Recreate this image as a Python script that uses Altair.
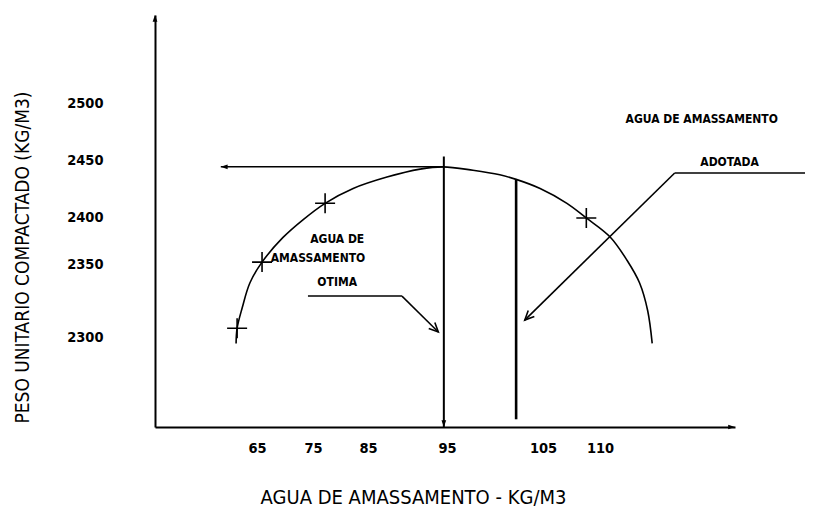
import altair as alt
import pandas as pd

# ---- scale anchors: axis value -> position along the (not-to-scale) drawing
x_domain = [45, 65, 75, 85, 95, 105, 110, 125]
x_range = [0, 102, 158, 213, 292, 388, 445, 580]
y_domain = [2230, 2300, 2350, 2400, 2450, 2500, 2600]
y_range = [412, 322, 249, 202, 145, 88, 0]

x_ticks = [65, 75, 85, 95, 105, 110]
y_ticks = [2300, 2350, 2400, 2450, 2500]

# ---- compaction curve
curve_x = [60.9, 61.1, 62.1, 63.6, 65.9, 69.6, 73.2, 77.2, 82.3, 87.4, 91.6, 94.5,
           97.7, 100.5, 102.2, 104.7, 107.1, 108.8, 111.1, 113.0, 114.4, 115.3, 115.8]
curve_y = [2295, 2306, 2320, 2337, 2352, 2378, 2397, 2412, 2425, 2435, 2442, 2444,
           2441, 2437, 2433, 2425, 2412, 2399, 2379, 2354, 2337, 2318, 2295]

# ---- test points (crosses)
marker_x = [61.1, 65.9, 77.2, 108.8]
marker_y = [2306, 2352, 2412, 2399]

# ---- construction lines
seg_x1 = [57.9, 94.6, 102.2, 118.3, 118.3, 74.1, 89.3]
seg_y1 = [2444, 2453, 2433, 2438.6, 2438.6, 2328, 2328]
seg_x2 = [94.5, 94.6, 102.2, 133.0, 103.1, 89.3, 93.9]
seg_y2 = [2444, 2230, 2236, 2438.6, 2311.6, 2328, 2303.4]
seg_w = [1.5, 2.0, 2.6, 1.6, 1.6, 1.5, 1.5]

# ---- open arrowheads (leaders)
open_x = [103.1, 93.9]
open_y = [2311.6, 2303.4]
open_angle = [225, 135]

# ---- filled arrowheads (axes and optimum lines)
fill_x = [45, 125, 57.9, 94.6]
fill_y = [2600, 2230, 2444, 2230]
fill_angle = [0, 90, 270, 180]

# ---- annotations
ann_text = ["AGUA DE AMASSAMENTO", "ADOTADA", "AGUA DE", "AMASSAMENTO", "OTIMA"]
ann_x = [121.3, 124.4, 79.4, 75.9, 79.4]
ann_y = [2486, 2448, 2377, 2356, 2338]

FONT = "DejaVu Sans Condensed"

xs = alt.Scale(domain=x_domain, range=x_range, nice=False, zero=False)
ys = alt.Scale(domain=y_domain, range=y_range, nice=False, zero=False)

x_axis = alt.Axis(values=x_ticks, format="d", title="AGUA DE AMASSAMENTO - KG/M3",
                  grid=False, ticks=False, tickSize=0, domainColor="black",
                  domainWidth=2, labelPadding=14, labelFont=FONT, labelFontSize=14.5,
                  labelFontWeight="bold", labelColor="black", labelFlush=False,
                  titleFont=FONT, titleFontSize=20, titleFontWeight="normal",
                  titleColor="black", titleX=258, titleY=70, titleBaseline="middle",
                  titleAlign="center")
y_axis = alt.Axis(values=y_ticks, format="d", title="PESO UNITARIO COMPACTADO (KG/M3)",
                  grid=False, ticks=False, tickSize=0, domainColor="black",
                  domainWidth=2, labelPadding=52, labelFont=FONT, labelFontSize=14.5,
                  labelFontWeight="bold", labelColor="black", labelFlush=False,
                  titleFont=FONT, titleFontSize=19, titleFontWeight="normal",
                  titleColor="black", titleX=-133, titleY=242, titleAngle=270,
                  titleBaseline="middle", titleAlign="center")


def X(field):
    return alt.X(f"{field}:Q", scale=xs, axis=x_axis)


def Y(field):
    return alt.Y(f"{field}:Q", scale=ys, axis=y_axis)


curve_df = pd.DataFrame({"x": curve_x, "y": curve_y, "i": range(len(curve_x))})
marker_df = pd.DataFrame({"x": marker_x, "y": marker_y})
seg_df = pd.DataFrame({"x": seg_x1, "y": seg_y1, "x2": seg_x2, "y2": seg_y2, "w": seg_w})
open_df = pd.DataFrame({"x": open_x, "y": open_y, "a": open_angle})
fill_df = pd.DataFrame({"x": fill_x, "y": fill_y, "a": fill_angle})
ann_df = pd.DataFrame({"x": ann_x, "y": ann_y, "t": ann_text})

curve = alt.Chart(curve_df).mark_line(
    interpolate="catmull-rom", color="black", strokeWidth=1.6
).encode(x=X("x"), y=Y("y"), order="i:Q")

markers = alt.Chart(marker_df).mark_point(
    shape="M-1,0L1,0M0,-1L0,1", size=400, filled=False, color="black",
    strokeWidth=1.6, opacity=1
).encode(x=X("x"), y=Y("y"))

segs = alt.Chart(seg_df).mark_rule(color="black").encode(
    x=X("x"), y=Y("y"), x2="x2:Q", y2="y2:Q",
    strokeWidth=alt.StrokeWidth("w:Q", scale=None)
)

open_heads = alt.Chart(open_df).mark_point(
    shape="M-0.42,0.9L0,0L0.42,0.9", size=420, filled=False, color="black",
    strokeWidth=1.6, opacity=1
).encode(x=X("x"), y=Y("y"), angle=alt.Angle("a:Q", scale=None))

fill_heads = alt.Chart(fill_df).mark_point(
    shape="M0,0L-0.45,1.3L0.45,1.3Z", size=110, filled=True, color="black",
    opacity=1, strokeWidth=0
).encode(x=X("x"), y=Y("y"), angle=alt.Angle("a:Q", scale=None))

ann = alt.Chart(ann_df).mark_text(
    font=FONT, fontSize=12, fontWeight="bold", color="black",
    align="center", baseline="middle"
).encode(x=X("x"), y=Y("y"), text="t:N")

chart = alt.layer(curve, segs, markers, open_heads, fill_heads, ann).properties(
    width=580, height=412,
    autosize=alt.AutoSizeParams(type="none"),
    padding={"left": 147, "top": 7, "right": 70, "bottom": 82},
    background="white",
).configure_view(stroke=None)

chart.save("out.html", embed_options={"renderer": "svg", "actions": False})
